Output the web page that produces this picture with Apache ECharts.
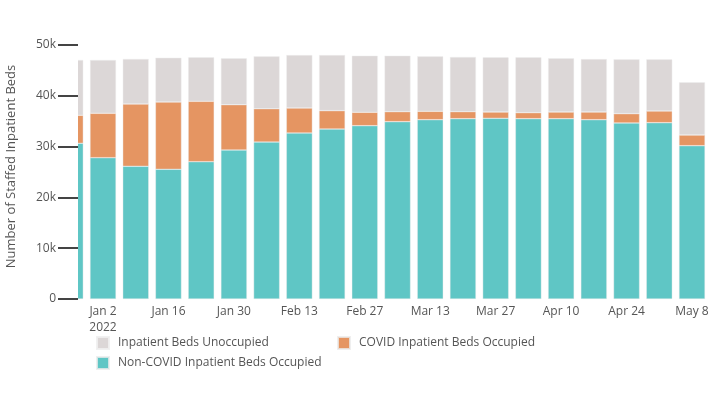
<!DOCTYPE html>
<html>
<head>
<meta charset="utf-8">
<script src="https://cdn.jsdelivr.net/npm/echarts@6/dist/echarts.min.js"></script>
<style>html,body{margin:0;padding:0;background:#fff}#c{width:720px;height:400px}</style>
</head>
<body>
<div id="c"></div>
<script>
var weeks = ['2021-12-26','2022-01-02','2022-01-09','2022-01-16','2022-01-23','2022-01-30','2022-02-06','2022-02-13','2022-02-20','2022-02-27','2022-03-06','2022-03-13','2022-03-20','2022-03-27','2022-04-03','2022-04-10','2022-04-17','2022-04-24','2022-05-01','2022-05-08'];
var nonCovid = [30650, 27820, 26120, 25530, 27030, 29330, 30900, 32680, 33460, 34120, 34910, 35300, 35500, 35570, 35500, 35500, 35300, 34650, 34710, 30180];
var covid = [5510, 8730, 12270, 13250, 11880, 8920, 6560, 4920, 3610, 2630, 1970, 1640, 1380, 1240, 1180, 1310, 1510, 1830, 2300, 2100];
var unoccupied = [10890, 10500, 8870, 8720, 8660, 9120, 10310, 10430, 10960, 11150, 11020, 10830, 10760, 10760, 10890, 10560, 10430, 10700, 10170, 10370];
var tickDates = ['2022-01-02','2022-01-16','2022-01-30','2022-02-13','2022-02-27','2022-03-13','2022-03-27','2022-04-10','2022-04-24','2022-05-08'];
var yTicks = [0, 10000, 20000, 30000, 40000, 50000];
var names = ['Inpatient Beds Unoccupied', 'COVID Inpatient Beds Occupied', 'Non-COVID Inpatient Beds Occupied'];

var DAY = 86400000;
function ts(s){ var p = s.split('-'); return Date.UTC(+p[0], +p[1]-1, +p[2]); }
var months = ['Jan','Feb','Mar','Apr','May','Jun','Jul','Aug','Sep','Oct','Nov','Dec'];
function pairs(arr){ return arr.map(function(v,i){ return [ts(weeks[i]), v]; }); }

var W = 720, H = 400;
var GRID_LEFT = 78, GRID_RIGHT = 15, GRID_TOP = 34, GRID_BOTTOM = 101, BAR_W = 26;
var xMin = ts('2022-01-02') - 5.35 * DAY;
var xMax = ts('2022-05-08') + 2.78 * DAY;
// ECharts widens a time axis that carries bars by half a bar on each side; pre-shrink so the final range is [xMin, xMax]
var axisLen = W - GRID_LEFT - GRID_RIGHT;
var pad = (xMax - xMin) * (BAR_W / 2) / axisLen;

var textColor = '#555';
var font = 'Open Sans';
var legendBase = {
  icon: 'rect', itemWidth: 12, itemHeight: 12, orient: 'horizontal',
  textStyle: { color: textColor, fontSize: 12, fontFamily: font, padding: [0,0,0,4] },
  selectedMode: false
};
var chart = echarts.init(document.getElementById('c'));
chart.setOption({
  animation: false,
  grid: { left: GRID_LEFT, right: GRID_RIGHT, top: GRID_TOP, bottom: GRID_BOTTOM, containLabel: false, outerBoundsMode: 'none' },
  // white margin left of the plot area, so the partly-out-of-range first week is cut at the plot edge
  graphic: [{ type: 'rect', left: 0, top: 0, z: 3, silent: true,
    shape: { width: GRID_LEFT, height: H - GRID_BOTTOM }, style: { fill: '#fff' } }],
  xAxis: [{
    type: 'time', min: xMin + pad, max: xMax - pad,
    axisLine: { show: false }, axisTick: { show: false }, splitLine: { show: false },
    axisLabel: { show: false }
  }, {
    type: 'value', min: xMin, max: xMax, position: 'bottom',
    axisLine: { show: false }, axisTick: { show: false }, splitLine: { show: false },
    axisLabel: {
      customValues: tickDates.map(ts),
      color: textColor, fontSize: 12, fontFamily: font, margin: 5, lineHeight: 16,
      formatter: function(v){
        var d = new Date(v);
        var s = months[d.getUTCMonth()] + ' ' + d.getUTCDate();
        if (v === ts(tickDates[0])) s += '\n' + d.getUTCFullYear();
        return s;
      }
    }
  }],
  yAxis: {
    type: 'value', min: 0, max: 52165, z: 5,
    name: 'Number of Staffed Inpatient Beds', nameLocation: 'middle', nameGap: 60,
    nameTextStyle: { color: textColor, fontSize: 13, fontFamily: font },
    axisLine: { show: false, onZero: false },
    axisTick: { show: true, length: 20, customValues: yTicks, lineStyle: { color: '#444', width: 2 } },
    splitLine: { show: false },
    axisLabel: {
      customValues: yTicks,
      color: textColor, fontSize: 12, fontFamily: font, margin: 22,
      formatter: function(v){ return v === 0 ? '0' : (v/1000) + 'k'; }
    }
  },
  legend: [
    Object.assign({}, legendBase, { data: [names[0]], left: 91, top: 331 }),
    Object.assign({}, legendBase, { data: [names[1]], left: 332, top: 331 }),
    Object.assign({}, legendBase, { data: [names[2]], left: 91, top: 351 })
  ],
  series: [
    { name: names[2], type: 'bar', stack: 'beds', barWidth: BAR_W, data: pairs(nonCovid),
      itemStyle: { color: '#5fc6c5', borderColor: 'rgba(235,235,235,0.8)', borderWidth: 0.5 } },
    { name: names[1], type: 'bar', stack: 'beds', barWidth: BAR_W, data: pairs(covid),
      itemStyle: { color: '#e59562', borderColor: 'rgba(235,235,235,0.8)', borderWidth: 0.5 } },
    { name: names[0], type: 'bar', stack: 'beds', barWidth: BAR_W, data: pairs(unoccupied),
      itemStyle: { color: '#dcd7d7', borderColor: 'rgba(240,240,240,0.9)', borderWidth: 0.5 } }
  ]
});
</script>
</body>
</html>
